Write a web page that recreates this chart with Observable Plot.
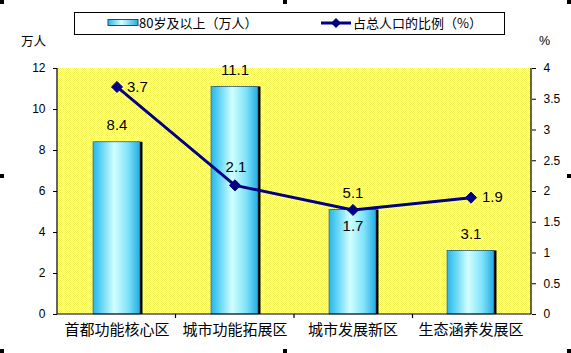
<!DOCTYPE html>
<html><head><meta charset="utf-8">
<script src="https://cdn.jsdelivr.net/npm/d3@7"></script>
<script src="https://cdn.jsdelivr.net/npm/@observablehq/plot@0.6"></script>
<style>
body{margin:0;background:#fff;}
#wrap{position:relative;width:571px;height:353px;overflow:hidden;font-family:"Liberation Sans",Arial,sans-serif;color:#000;}
#wrap svg{position:absolute;left:0;top:0;}
.abs{position:absolute;white-space:nowrap;}
.cjk{font-family:"Noto Sans CJK SC","Liberation Sans",sans-serif;}
#legend{left:74px;top:12px;width:429px;height:21px;border:1px solid #000;background:#fff;}
.handle{position:absolute;background:#000;width:4px;height:4px;}
</style></head><body><div id="wrap"></div>
<script>
const categories = ["首都功能核心区", "城市功能拓展区", "城市发展新区", "生态涵养发展区"];
const elderly = [8.4, 11.1, 5.1, 3.1];       // 80岁及以上（万人）
const share = [3.7, 2.1, 1.7, 1.9];          // 占总人口的比例（%）
const leftTicks = [0, 2, 4, 6, 8, 10, 12];
const rightTicks = [0, 0.5, 1, 1.5, 2, 2.5, 3, 3.5, 4];
const seriesNames = ["80岁及以上（万人）", "占总人口的比例（%）"];
const unitLeft = "万人";
const unitRight = "%";

const leftMax = 12, rightMax = 4;
const ratio = leftMax / rightMax;
const rows = categories.map((c, i) => ({c, v: elderly[i], p: share[i], ps: share[i] * ratio, i}));
// per-point label placement for the line labels (style only)
const lineLabelStyle = [
  {dx: 10, dy: 0, textAnchor: "start"},
  {dx: 1, dy: -18, textAnchor: "middle"},
  {dx: 0, dy: 16, textAnchor: "middle"},
  {dx: 11, dy: 0, textAnchor: "start"}
];

function backdrop(index, scales, values, dims) {
  const {width, height, marginLeft, marginRight, marginTop, marginBottom} = dims;
  const x0 = marginLeft, x1 = width - marginRight, y0 = marginTop, y1 = height - marginBottom;
  const g = d3.create("svg:g");
  const defs = g.append("defs");
  const pat = defs.append("pattern").attr("id", "chk").attr("width", 2).attr("height", 2).attr("patternUnits", "userSpaceOnUse");
  pat.append("rect").attr("width", 2).attr("height", 2).attr("fill", "#ffffe2");
  pat.append("rect").attr("width", 1).attr("height", 1).attr("fill", "#f6f65a");
  pat.append("rect").attr("x", 1).attr("y", 1).attr("width", 1).attr("height", 1).attr("fill", "#f6f65a");
  const grad = defs.append("linearGradient").attr("id", "barg").attr("x1", 0).attr("x2", 1).attr("y1", 0).attr("y2", 0);
  [[0, "#28b6ea"], [0.2, "#6ad8f6"], [0.45, "#d2ffff"], [0.75, "#7ee2fa"], [1, "#22acE4"]].forEach(([o, c]) =>
    grad.append("stop").attr("offset", o).attr("stop-color", c));
  g.append("rect").attr("x", x0).attr("y", y0).attr("width", x1 - x0).attr("height", y1 - y0).attr("fill", "url(#chk)");
  return g.node();
}

function axisLines(index, scales, values, dims) {
  const {width, height, marginLeft, marginRight, marginTop, marginBottom} = dims;
  const x0 = marginLeft, x1 = width - marginRight, y0 = marginTop, y1 = height - marginBottom;
  const g = d3.create("svg:g").attr("stroke", "#000").attr("stroke-width", 1.2).attr("fill", "none");
  g.append("path").attr("d", `M${x0},${y0}V${y1}H${x1}V${y0}`);
  const step = (x1 - x0) / categories.length;
  for (let k = 1; k < categories.length; ++k) {
    const x = x0 + k * step;
    g.append("line").attr("x1", x).attr("x2", x).attr("y1", y1).attr("y2", y1 + 4);
  }
  return g.node();
}

const fmt = d => d3.format(".1f")(d);
const marks = [
  backdrop,
  Plot.barY(rows, {x: "c", y: "v", fill: "#000", dx: 2.5}),
  Plot.barY(rows, {x: "c", y: "v", fill: "url(#barg)", stroke: "#1c4e6e", strokeWidth: 0.6}),
  axisLines,
  Plot.axisY(leftTicks, {anchor: "left", tickSize: 4, tickPadding: 8, fontSize: 12, label: null}),
  Plot.axisY(rightTicks.map(t => t * ratio), {anchor: "right", tickSize: 4, tickPadding: 8, fontSize: 12, label: null,
    tickFormat: d => String(Math.round(d / ratio * 10) / 10)}),
  Plot.axisX({tickSize: 0, tickPadding: 10, fontSize: 15, fontFamily: "Noto Sans CJK SC", label: null}),
  Plot.line(rows, {x: "c", y: "ps", stroke: "#000080", strokeWidth: 3}),
  Plot.dot(rows, {x: "c", y: "ps", symbol: "diamond2", r: 5, fill: "#000080", stroke: "#000080", strokeWidth: 1}),
  Plot.text(rows, {x: "c", y: "v", text: d => fmt(d.v), dy: -17, fontSize: 15, fill: "#000"}),
  ...lineLabelStyle.map((s, i) => Plot.text(rows.filter(d => d.i === i), {x: "c", y: "ps", text: d => fmt(d.p), fontSize: 15, fill: "#000", ...s}))
];

const chart = Plot.plot({
  width: 571, height: 353,
  marginTop: 68, marginBottom: 39, marginLeft: 57, marginRight: 40,
  style: {fontFamily: "'Liberation Sans', Arial, sans-serif", background: "transparent", color: "#000"},
  x: {domain: categories, paddingInner: 0.6, paddingOuter: 0.3, axis: null},
  y: {domain: [0, leftMax], axis: null},
  marks
});
const wrap = document.getElementById("wrap");
wrap.appendChild(chart);

// legend
const legend = document.createElement("div");
legend.className = "abs";
legend.id = "legend";
legend.innerHTML = `
<svg width="429" height="21" style="position:absolute;left:0;top:0">
  <defs><linearGradient id="lg" x1="0" x2="1" y1="0" y2="0">
    <stop offset="0" stop-color="#28b6ea"/><stop offset="0.45" stop-color="#d2ffff"/><stop offset="1" stop-color="#22ace4"/>
  </linearGradient></defs>
  <rect x="33" y="6.5" width="30" height="6" fill="url(#lg)" stroke="#1c4e6e" stroke-width="1"/>
  <line x1="246" x2="276" y1="10" y2="10" stroke="#000080" stroke-width="3"/>
  <path d="M261,5 L266,10 L261,15 L256,10 Z" fill="#000080"/>
</svg>
<span class="abs cjk" style="left:64px;top:1px;font-size:13px;line-height:18px">${seriesNames[0]}</span>
<span class="abs cjk" style="left:278px;top:1px;font-size:13px;line-height:18px">${seriesNames[1]}</span>`;
wrap.appendChild(legend);

const ul = document.createElement("div");
ul.className = "abs cjk";
ul.style.cssText = "left:21px;top:32px;font-size:12.5px;line-height:18px";
ul.textContent = unitLeft;
wrap.appendChild(ul);
const ur = document.createElement("div");
ur.className = "abs";
ur.style.cssText = "left:539px;top:32px;font-size:12.5px;line-height:18px";
ur.textContent = unitRight;
wrap.appendChild(ur);

// selection handles of the chart object
[[0,0],[283,0],[567,0],[0,174],[567,174],[0,349],[283,349],[567,349]].forEach(([l,t]) => {
  const h = document.createElement("div");
  h.className = "handle";
  h.style.left = l + "px"; h.style.top = t + "px";
  wrap.appendChild(h);
});
</script>
</body></html>
